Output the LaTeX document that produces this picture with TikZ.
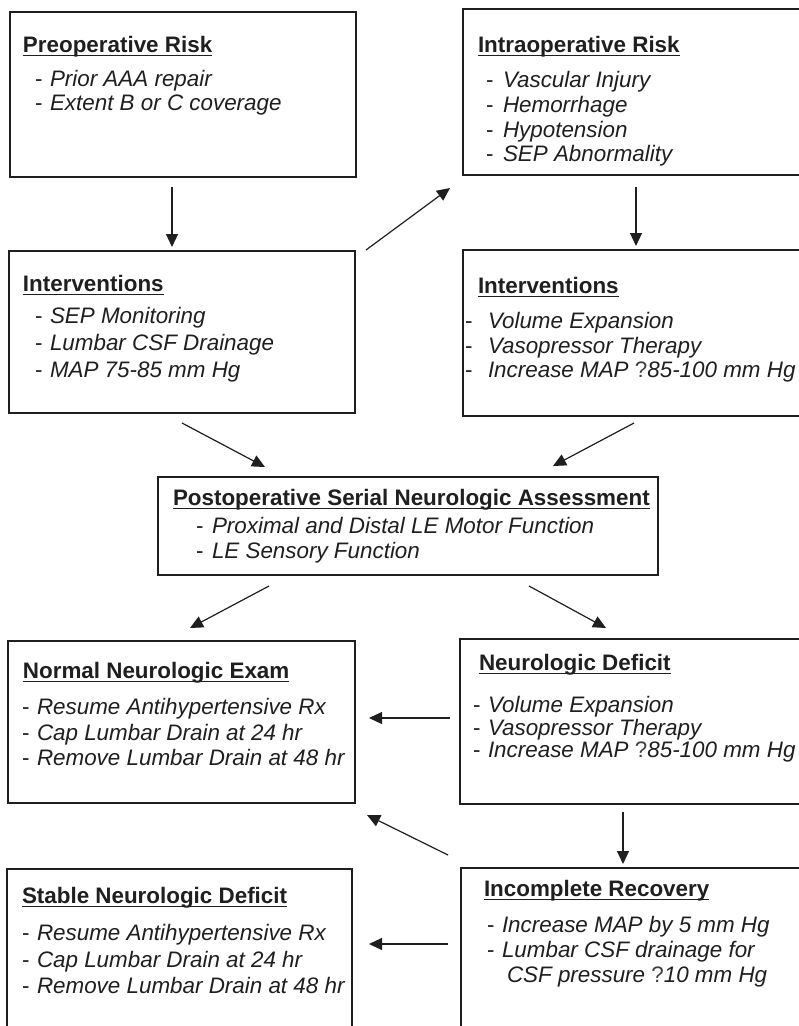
\documentclass[tikz,border=0pt]{standalone}
\usepackage{fontspec}
\setmainfont{Liberation Sans}
\usetikzlibrary{arrows.meta,calc}
\newcommand\myul[1]{\setbox0\hbox{#1}\rlap{\rule[-4.2pt]{\wd0}{1.6pt}}\box0}
\newcommand\dsh[1]{\makebox[#1pt][l]{\upshape-}}
\newcommand\qm{{\upshape\color{black!75}?}}
\colorlet{ink}{black!88}
\tikzset{
  bx/.style={draw=ink,line width=1.6pt,rectangle,anchor=north west,inner sep=0pt,outer sep=0pt},
  ttl/.style={anchor=base west,inner sep=0pt,outer sep=0pt,text=ink,font=\fontsize{22.4}{26}\selectfont\bfseries},
  itm/.style={anchor=base west,inner sep=0pt,outer sep=0pt,text=ink,font=\fontsize{22.4}{26}\selectfont\itshape},
  arr/.style={draw=ink,line width=1.2pt,-{Triangle[length=13pt,width=12pt]}}
}
\begin{document}
\begin{tikzpicture}[x=1pt,y=-1pt]
\useasboundingbox[fill=white] (0,0) rectangle (799,1026);
% boxes
\node[bx,minimum width=346pt,minimum height=165pt] (pre) at (10,12) {};
\node[bx,minimum width=380pt,minimum height=166pt] (intra) at (463,9) {};
\node[bx,minimum width=346pt,minimum height=162pt] (intL) at (9,251) {};
\node[bx,minimum width=380pt,minimum height=166pt] (intR) at (463,250) {};
\node[bx,minimum width=500pt,minimum height=98pt] (post) at (158,477) {};
\node[bx,minimum width=347pt,minimum height=162pt] (normal) at (8,641) {};
\node[bx,minimum width=380pt,minimum height=165pt] (deficit) at (460,639) {};
\node[bx,minimum width=345pt,minimum height=190pt] (stable) at (7,869) {};
\node[bx,minimum width=380pt,minimum height=190pt] (incomplete) at (461,868) {};
% texts
\node[ttl] (pre-t) at (23,52) {\myul{Preoperative Risk}};
\node[itm] (pre-1) at (35,86) {\dsh{15}Prior AAA repair};
\node[itm] (pre-2) at (35,110) {\dsh{15}Extent B or C coverage};
\node[ttl] (intra-t) at (478,52) {\myul{Intraoperative Risk}};
\node[itm] (intra-1) at (486,87) {\dsh{17}Vascular Injury};
\node[itm] (intra-2) at (486,112) {\dsh{17}Hemorrhage};
\node[itm] (intra-3) at (486,137) {\dsh{17}Hypotension};
\node[itm] (intra-4) at (486,161) {\dsh{17}SEP Abnormality};
\node[ttl] (intL-t) at (23,291) {\myul{Interventions}};
\node[itm] (intL-1) at (35,323) {\dsh{15}SEP Monitoring};
\node[itm] (intL-2) at (35,350) {\dsh{15}Lumbar CSF Drainage};
\node[itm] (intL-3) at (35,377) {\dsh{15}MAP 75-85 mm Hg};
\node[ttl] (intR-t) at (478,293) {\myul{Interventions}};
\node[itm] (intR-1) at (465,328) {\dsh{23}Volume Expansion};
\node[itm] (intR-2) at (465,353) {\dsh{23}Vasopressor Therapy};
\node[itm] (intR-3) at (465,377) {\dsh{23}Increase MAP \qm 85-100 mm Hg};
\node[ttl] (post-t) at (173,505) {\myul{Postoperative Serial Neurologic Assessment}};
\node[itm] (post-1) at (196,533) {\dsh{16}Proximal and Distal LE Motor Function};
\node[itm] (post-2) at (196,558) {\dsh{16}LE Sensory Function};
\node[ttl] (normal-t) at (23,678) {\myul{Normal Neurologic Exam}};
\node[itm] (normal-1) at (22,714) {\dsh{15}Resume Antihypertensive Rx};
\node[itm] (normal-2) at (22,740) {\dsh{15}Cap Lumbar Drain at 24 hr};
\node[itm] (normal-3) at (22,765) {\dsh{15}Remove Lumbar Drain at 48 hr};
\node[ttl] (deficit-t) at (479,670) {\myul{Neurologic Deficit}};
\node[itm] (deficit-1) at (473,712) {\dsh{15}Volume Expansion};
\node[itm] (deficit-2) at (473,735) {\dsh{15}Vasopressor Therapy};
\node[itm] (deficit-3) at (473,757) {\dsh{15}Increase MAP \qm 85-100 mm Hg};
\node[ttl] (stable-t) at (22,903) {\myul{Stable Neurologic Deficit}};
\node[itm] (stable-1) at (22,940) {\dsh{15}Resume Antihypertensive Rx};
\node[itm] (stable-2) at (22,967) {\dsh{15}Cap Lumbar Drain at 24 hr};
\node[itm] (stable-3) at (22,993) {\dsh{15}Remove Lumbar Drain at 48 hr};
\node[ttl] (inc-t) at (484,896) {\myul{Incomplete Recovery}};
\node[itm] (inc-1) at (487,932) {\dsh{15}Increase MAP by 5 mm Hg};
\node[itm] (inc-2) at (487,957) {\dsh{15}Lumbar CSF drainage for};
\node[itm] (inc-3) at (507,982) {CSF pressure \qm 10 mm Hg};
% connectors
\draw[arr] ($(pre.south west)+(162,10)$) -- ($(intL.north west)+(163,-4)$);
\draw[arr] ($(intL.north east)+(11,-1)$) -- ($(intra.south west)+(-13,13)$);
\draw[arr] ($(intra.south west)+(173,12)$) -- ($(intR.north west)+(173,-4)$);
\draw[arr] ($(intL.south west)+(173,10)$) -- ($(post.north west)+(107,-10)$);
\draw[arr] ($(intR.south west)+(171,7)$) -- ($(post.north west)+(395,-11)$);
\draw[arr] ($(post.south west)+(111,11)$) -- ($(normal.north west)+(182,-13)$);
\draw[arr] ($(post.south west)+(371,11)$) -- ($(deficit.north west)+(146,-11)$);
\draw[arr] ($(deficit.north west)+(-10,79)$) -- ($(normal.north east)+(14,77)$);
\draw[arr] ($(deficit.south west)+(163,8)$) -- ($(incomplete.north west)+(162,-4)$);
\draw[arr] ($(incomplete.north west)+(-13,-13)$) -- ($(normal.south east)+(12,12)$);
\draw[arr] ($(incomplete.north west)+(-13,76)$) -- ($(stable.north east)+(17,75)$);
\end{tikzpicture}
\end{document}
